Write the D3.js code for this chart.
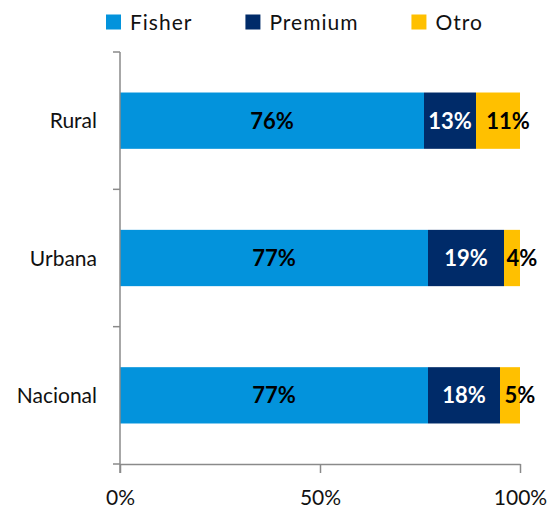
<!DOCTYPE html>
<html>
<head>
<meta charset="utf-8">
<script src="https://cdn.jsdelivr.net/npm/d3@7"></script>
<style>
  body { margin: 0; background: #fff; }
  text { font-family: Lato, "Open Sans", sans-serif; }
</style>
</head>
<body>
<svg id="chart" width="551" height="511"></svg>
<script>
// data
const categories = ["Rural", "Urbana", "Nacional"];
const seriesNames = ["Fisher", "Premium", "Otro"];
const fisher = [76, 77, 77];
const premium = [13, 19, 18];
const otro = [11, 4, 5];
const xTicks = [0, 50, 100];

const colors = ["#0393DC", "#002B69", "#FFC000"];
const labelColors = ["#000", "#fff", "#000"];

const svg = d3.select("#chart");
const plotLeft = 120, plotRight = 520, plotTop = 52, plotBottom = 464;

const x = d3.scaleLinear().domain([0, 100]).range([plotLeft, plotRight]);
const y = d3.scaleBand().domain(categories).range([plotTop, plotBottom])
    .paddingInner(0.59).paddingOuter(0.295);

// build stacked rows
const rows = categories.map((c, i) => ({ cat: c, Fisher: fisher[i], Premium: premium[i], Otro: otro[i] }));
const stacked = d3.stack().keys(seriesNames)(rows);

// bars
stacked.forEach((layer, si) => {
    svg.append("g").selectAll("rect")
        .data(layer)
        .join("rect")
        .attr("x", d => x(d[0]))
        .attr("y", d => y(d.data.cat))
        .attr("width", d => x(d[1]) - x(d[0]))
        .attr("height", y.bandwidth())
        .attr("fill", colors[si]);
});

// bar labels
stacked.forEach((layer, si) => {
    svg.append("g").selectAll("text")
        .data(layer)
        .join("text")
        .attr("x", d => (x(d[0]) + x(d[1])) / 2 + (si == 2 ? 10 : 0))
        .attr("y", d => y(d.data.cat) + y.bandwidth() / 2)
        .attr("dy", "0.36em")
        .attr("text-anchor", "middle")
        .attr("font-size", 22)
        .attr("font-weight", "bold")
        .attr("fill", labelColors[si])
        .text(d => (d[1] - d[0]) + "%");
});

// category axis (vertical line + ticks between bands)
const axisColor = "#8a8a8a";
svg.append("line")
    .attr("x1", plotLeft).attr("x2", plotLeft)
    .attr("y1", plotTop).attr("y2", plotBottom + 9)
    .attr("stroke", axisColor).attr("stroke-width", 1.5);
d3.range(categories.length + 1).forEach(i => {
    const yy = plotTop + i * (plotBottom - plotTop) / categories.length;
    svg.append("line")
        .attr("x1", plotLeft - 7).attr("x2", plotLeft)
        .attr("y1", yy).attr("y2", yy)
        .attr("stroke", axisColor).attr("stroke-width", 1.5);
});
svg.append("g").selectAll("text")
    .data(categories)
    .join("text")
    .attr("x", 97)
    .attr("y", d => y(d) + y.bandwidth() / 2)
    .attr("dy", "0.36em")
    .attr("text-anchor", "end")
    .attr("font-size", 21)
    .attr("fill", "#111")
    .text(d => d);

// value axis
const xAxis = svg.append("g")
    .attr("transform", `translate(0,${plotBottom})`)
    .call(d3.axisBottom(x).tickValues(xTicks).tickSize(9).tickSizeOuter(0).tickFormat(d => d + "%"));
xAxis.select(".domain").attr("stroke", axisColor).attr("stroke-width", 1.5);
xAxis.selectAll(".tick line").attr("stroke", axisColor).attr("stroke-width", 1.5);
xAxis.selectAll(".tick text")
    .attr("y", 41).attr("dy", 0)
    .attr("font-size", 21)
    .attr("font-family", "Lato, sans-serif")
    .attr("fill", "#111");

// legend
const legend = svg.append("g");
let lx = 106;
seriesNames.forEach((name, i) => {
    legend.append("rect")
        .attr("x", lx).attr("y", 14.5)
        .attr("width", 15).attr("height", 15)
        .attr("fill", colors[i]);
    const t = legend.append("text")
        .attr("x", lx + 24).attr("y", 29.5)
        .attr("font-size", 21)
        .attr("letter-spacing", 1)
        .attr("fill", "#111")
        .text(name);
    lx += 24 + t.node().getComputedTextLength() + 53;
});
</script>
</body>
</html>
